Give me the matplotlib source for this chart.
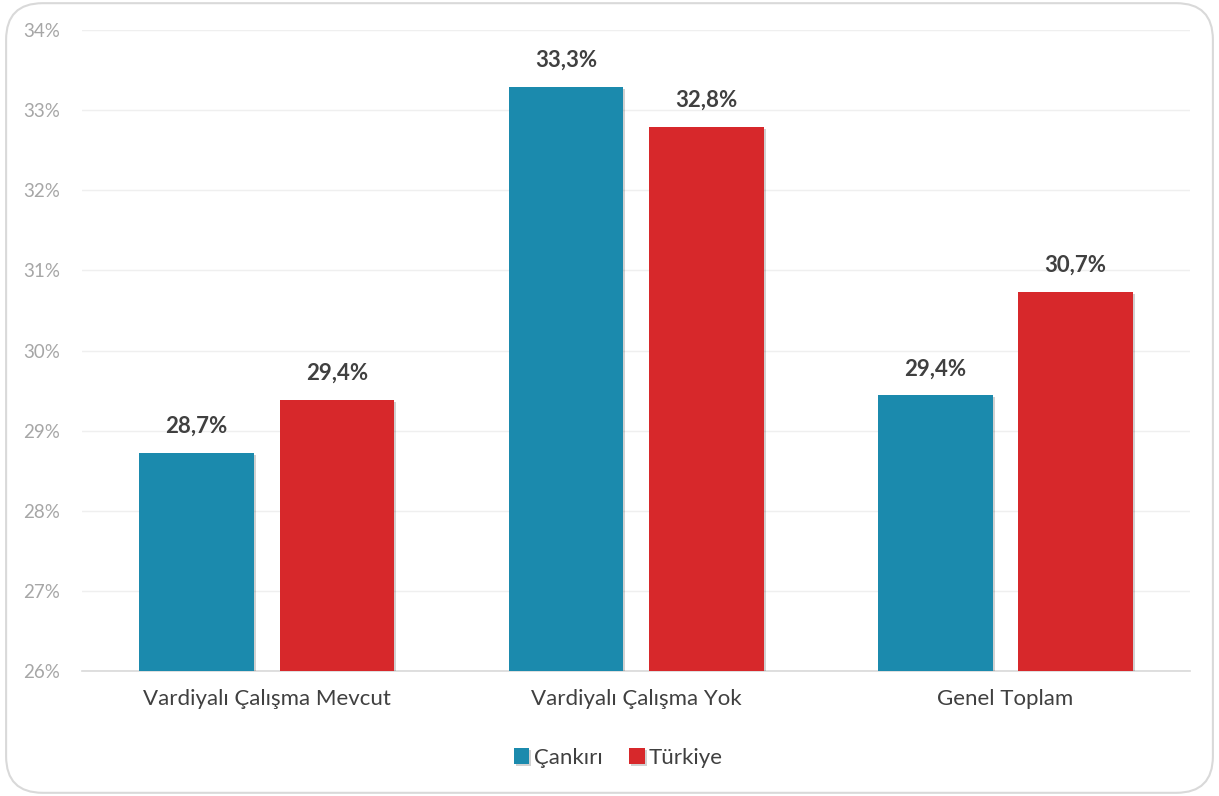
import matplotlib.pyplot as plt
import matplotlib.patheffects as pe
from matplotlib.patches import FancyBboxPatch
import numpy as np

plt.rcParams['font.family'] = ['Lato', 'DejaVu Sans']

# data
categories = ['Vardiyalı Çalışma Mevcut', 'Vardiyalı Çalışma Yok', 'Genel Toplam']
series_names = ['Çankırı', 'Türkiye']
cankiri = [28.72, 33.29, 29.44]
turkiye = [29.38, 32.79, 30.73]
colors = ['#1b8aad', '#d7282b']

fig = plt.figure(figsize=(12.19, 7.96), dpi=100)

# rounded border around the chart
border = FancyBboxPatch((0.005, 0.004), 0.99, 0.992, boxstyle='round,pad=0,rounding_size=0.03',
                        transform=fig.transFigure, facecolor='none', edgecolor='#d9d9d9',
                        linewidth=1.5, mutation_aspect=1219 / 796, zorder=-1)
fig.patches.append(border)

ax = fig.add_axes([0.0673, 0.157, 0.909, 0.8053])
ax.set_facecolor('none')

x = np.arange(len(categories))
width = 0.31
offsets = [-0.19, 0.19]
shadow = [pe.SimplePatchShadow(offset=(1.5, -1.5), shadow_rgbFace='#000000', alpha=0.18), pe.Normal()]

for vals, off, col, name in zip([cankiri, turkiye], offsets, colors, series_names):
    bars = ax.bar(x + off, np.array(vals) - 26, width, bottom=26, color=col, label=name, zorder=3)
    for b in bars:
        b.set_path_effects(shadow)
    for xi, v in zip(x + off, vals):
        ax.text(xi, v + 0.2, f'{v:.1f}%'.replace('.', ','), ha='center', va='bottom',
                fontsize=16, fontweight='bold', color='#404040', zorder=4)

ax.set_xlim(-0.5, 2.5)
ax.set_ylim(26, 34)
ax.set_yticks(range(26, 35))
ax.set_yticklabels([f'{t}%' for t in range(26, 35)], fontsize=13.5, color='#a6a6a6')
ax.set_xticks(x)
ax.set_xticklabels(categories, fontsize=16, color='#404040')
ax.tick_params(axis='both', length=0)
ax.tick_params(axis='x', pad=13)
ax.tick_params(axis='y', pad=16)
ax.grid(axis='y', color='#efefef', linewidth=1, zorder=0)
for s in ['top', 'right', 'left']:
    ax.spines[s].set_visible(False)
ax.spines['bottom'].set_color('#d9d9d9')
ax.spines['bottom'].set_linewidth(1.2)

ax.legend(loc='center', bbox_to_anchor=(0.484, -0.135), ncol=2, frameon=False, fontsize=16,
          handlelength=0.7, handleheight=0.7, handletextpad=0.2, columnspacing=1.2,
          labelcolor='#404040')

fig.savefig('out.png', dpi=100)
